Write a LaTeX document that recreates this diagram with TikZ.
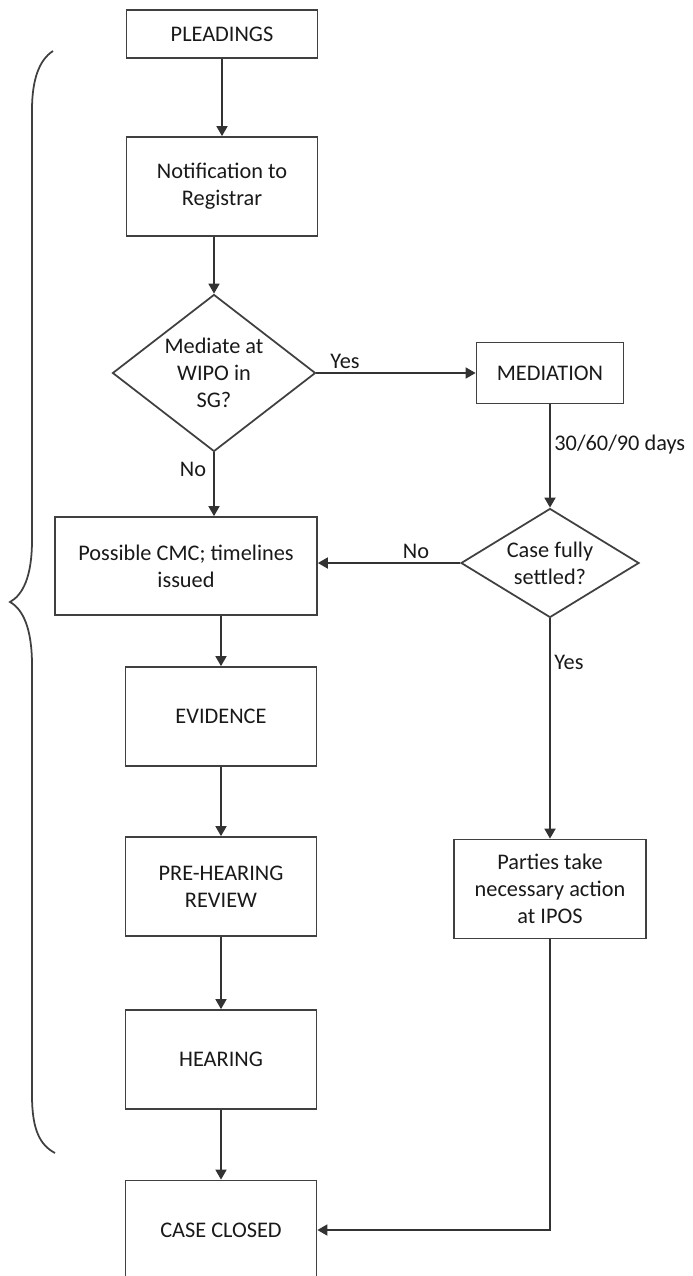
\documentclass[tikz,border=0pt]{standalone}
\usepackage{fontspec}
\setmainfont{Carlito}
\usetikzlibrary{positioning,shapes.geometric,arrows.meta}
\tikzset{>={Triangle[width=2.2mm,length=2mm]}}

\begin{document}
\begin{tikzpicture}[node distance=3.4cm,on grid,
    font=\fontsize{12.7}{15.4}\selectfont,
    stage/.style={draw=black!75,line width=1pt,text=black!90,align=center,minimum width=3.82cm,minimum height=1.98cm},
    query/.style={diamond,draw=black!75,line width=1pt,text=black!90,align=center,inner sep=0pt},
    flow/.style={->,draw=black!80,line width=1pt},
    tag/.style={text=black!90,inner sep=2pt}]
    \useasboundingbox (0,0) rectangle (13.86,-25.52);
    \node (pleadings) [stage,minimum height=0.96cm] at (4.44,-0.68) {PLEADINGS};
    \node (notify) [stage,below=3.05cm of pleadings] {Notification to\\Registrar};
    \node (mediate) [query,below left=3.73cm and 0.16cm of notify,minimum width=4.06cm,minimum height=3.14cm,aspect=1.29] {Mediate at\\WIPO in\\SG?};
    \node (mediation) [stage,right=6.72cm of mediate,minimum width=2.94cm,minimum height=1.22cm] {MEDIATION};
    \node (settled) [query,below=3.8cm of mediation,minimum width=3.56cm,minimum height=2.18cm,aspect=1.63] {Case fully\\settled?};
    \node (cmc) [stage,below left=3.86cm and 0.56cm of mediate,minimum width=5.24cm,minimum height=1.96cm] {Possible CMC; timelines\\issued};
    \node (evidence) [stage,below right=3.01cm and 0.7cm of cmc] {EVIDENCE};
    \node (prehearing) [stage,below=3.4cm of evidence] {PRE-HEARING\\REVIEW};
    \node (hearing) [stage,below=3.46cm of prehearing] {HEARING};
    \node (closed) [stage,below=3.41cm of hearing] {CASE CLOSED};
    \node (parties) [stage,below=6.52cm of settled,minimum width=3.84cm] {Parties take\\necessary action\\at IPOS};

    % main line
    \draw[flow] (pleadings) -- (notify);
    \draw[flow] (mediate.north |- notify.south) -- (mediate.north);
    \draw[flow] (mediate.south) -- (mediate.south |- cmc.north) node (nomed) [tag,pos=0.26,left=2pt] {No};
    \draw[flow] (evidence.north |- cmc.south) -- (evidence.north);
    \draw[flow] (evidence) -- (prehearing);
    \draw[flow] (prehearing) -- (hearing);
    \draw[flow] (hearing) -- (closed);

    % mediation branch
    \draw[flow] (mediate.east) -- (mediation.west) node (yesmed) [tag,pos=0.18,above] {Yes};
    \draw[flow] (mediation.south) -- (settled.north) node (days) [tag,pos=0.39,right] {30/60/90 days};
    \draw[flow] (settled.west) -- (settled.west -| cmc.east) node (nosettled) [tag,pos=0.31,above] {No};
    \draw[flow] (settled.south) -- (parties.north) node (yessettled) [tag,pos=0.2,right] {Yes};
    \draw[flow] (parties.south) |- (closed.east);

    % brace
    \draw[line width=1pt,black!75] (1.06,-1.02) .. controls (0.78,-1.2) and (0.64,-1.6) .. (0.64,-2.2)
        -- (0.64,-10.8) .. controls (0.64,-11.55) and (0.45,-11.9) .. (0.2,-12.04)
        .. controls (0.45,-12.18) and (0.64,-12.55) .. (0.64,-13.3)
        -- (0.64,-21.9) .. controls (0.64,-22.6) and (0.8,-22.9) .. (1.1,-23.06);
\end{tikzpicture}
\end{document}
